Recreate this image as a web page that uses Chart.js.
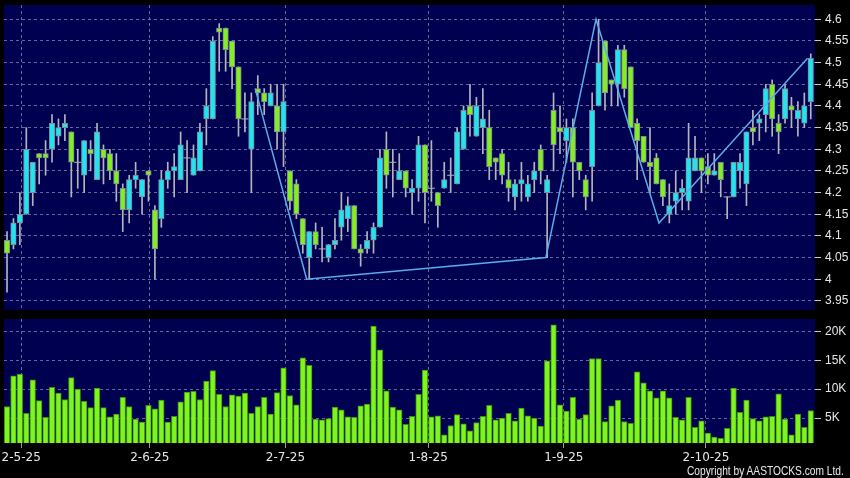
<!DOCTYPE html>
<html>
<head>
<meta charset="utf-8">
<script src="https://cdn.jsdelivr.net/npm/chart.js@4.4.0/dist/chart.umd.min.js"></script>
<style>
  html, body { margin: 0; padding: 0; background: #000; }
  #wrap { position: relative; width: 850px; height: 478px; overflow: hidden; background: #000; }
  #priceBox { position: absolute; left: 0; top: 0; width: 850px; height: 312px; }
  #volBox { position: absolute; left: 0; top: 312px; width: 850px; height: 166px; }
  #copy {
    position: absolute; left: 687px; top: 464px; line-height: 15px;
    font: 12px "Liberation Sans", Arial, sans-serif; color: #e8e8e8;
    white-space: nowrap; transform: scaleX(0.85); transform-origin: left center;
  }
</style>
</head>
<body>
<div id="wrap">
  <div id="priceBox"><canvas id="priceChart" width="850" height="312"></canvas></div>
  <div id="volBox"><canvas id="volChart" width="850" height="166"></canvas></div>
  <div id="copy">Copyright by AASTOCKS.com Ltd.</div>
</div>
<script>
// daily candles, one per trading day (index 0 = first day shown)
const OPEN = [4.09,4.08,4.13,4.15,4.20,4.29,4.29,4.30,4.33,4.35,4.34,4.27,4.24,4.30,4.23,4.30,
  4.29,4.25,4.21,4.16,4.23,4.19,4.25,4.16,4.14,4.23,4.25,4.23,4.28,4.24,4.25,4.37,4.37,
  4.58,4.58,4.55,4.49,4.37,4.30,4.44,4.43,4.40,4.40,4.34,4.25,4.22,4.14,4.05,4.11,
  4.07,4.05,4.08,4.12,4.14,4.17,4.07,4.07,4.09,4.12,4.30,4.27,4.23,4.25,4.20,4.21,
  4.31,4.21,4.20,4.21,4.24,4.22,4.30,4.40,4.33,4.35,4.35,4.28,4.29,4.23,4.19,4.22,
  4.19,4.23,4.30,4.20,4.39,4.35,4.32,4.35,4.27,4.23,4.26,4.40,4.55,4.46,4.45,4.53,
  4.49,4.36,4.33,4.27,4.28,4.23,4.15,4.18,4.20,4.18,4.25,4.28,4.26,4.24,4.27,4.19,4.19,
  4.25,4.22,4.35,4.36,4.38,4.45,4.36,4.37,4.40,4.37,4.36,4.41];
const HIGH = [4.11,4.14,4.20,4.35,4.27,4.29,4.32,4.38,4.37,4.38,4.34,4.30,4.32,4.32,4.36,4.31,
  4.30,4.29,4.22,4.24,4.27,4.23,4.25,4.17,4.25,4.27,4.29,4.34,4.32,4.31,4.36,4.44,4.56,
  4.59,4.58,4.55,4.49,4.43,4.43,4.47,4.44,4.45,4.45,4.45,4.25,4.23,4.14,4.11,4.13,
  4.12,4.08,4.14,4.20,4.19,4.17,4.08,4.11,4.13,4.30,4.34,4.30,4.29,4.25,4.23,4.33,
  4.31,4.32,4.20,4.27,4.28,4.35,4.40,4.45,4.42,4.44,4.39,4.28,4.30,4.27,4.23,4.27,
  4.24,4.27,4.31,4.24,4.43,4.40,4.37,4.37,4.27,4.24,4.43,4.60,4.55,4.46,4.54,4.54,
  4.49,4.37,4.33,4.35,4.29,4.23,4.22,4.25,4.23,4.36,4.33,4.28,4.29,4.29,4.27,4.19,4.27,
  4.29,4.34,4.39,4.38,4.45,4.46,4.38,4.45,4.42,4.41,4.43,4.52];
const LOW = [3.97,4.07,4.08,4.15,4.17,4.22,4.24,4.27,4.31,4.32,4.19,4.21,4.20,4.25,4.23,4.22,
  4.23,4.18,4.11,4.13,4.21,4.15,4.18,4.00,4.12,4.21,4.19,4.23,4.20,4.24,4.25,4.31,4.37,
  4.48,4.48,4.44,4.33,4.34,4.20,4.38,4.38,4.40,4.30,4.26,4.16,4.14,4.06,4.00,4.07,
  4.04,4.04,4.07,4.09,4.11,4.07,4.03,4.06,4.06,4.12,4.21,4.19,4.23,4.19,4.15,4.18,
  4.13,4.18,4.12,4.21,4.20,4.22,4.30,4.33,4.33,4.29,4.23,4.23,4.22,4.18,4.16,4.18,
  4.18,4.20,4.22,4.05,4.25,4.29,4.27,4.19,4.23,4.16,4.18,4.40,4.39,4.40,4.40,4.42,
  4.35,4.23,4.27,4.20,4.22,4.17,4.13,4.15,4.16,4.16,4.25,4.20,4.22,4.24,4.19,4.14,4.19,
  4.21,4.17,4.31,4.32,4.34,4.33,4.29,4.36,4.35,4.33,4.35,4.37];
const CLOSE = [4.06,4.13,4.15,4.30,4.27,4.28,4.28,4.36,4.35,4.36,4.27,4.27,4.32,4.29,4.34,4.28,
  4.25,4.22,4.16,4.23,4.24,4.23,4.24,4.07,4.23,4.25,4.26,4.31,4.28,4.28,4.34,4.40,4.55,
  4.57,4.53,4.49,4.37,4.37,4.41,4.43,4.41,4.43,4.34,4.41,4.18,4.15,4.08,4.11,4.08,
  4.07,4.08,4.09,4.16,4.17,4.07,4.06,4.09,4.12,4.28,4.24,4.27,4.25,4.21,4.21,4.31,
  4.20,4.21,4.17,4.23,4.24,4.34,4.39,4.38,4.40,4.37,4.26,4.27,4.24,4.21,4.22,4.23,
  4.22,4.25,4.25,4.23,4.31,4.34,4.35,4.27,4.25,4.19,4.39,4.50,4.43,4.45,4.53,4.44,
  4.35,4.32,4.27,4.26,4.22,4.19,4.17,4.20,4.21,4.28,4.28,4.25,4.24,4.25,4.23,4.19,4.27,
  4.27,4.34,4.34,4.37,4.44,4.37,4.34,4.44,4.39,4.39,4.40,4.51];
// volume in thousands of shares
const VOLUME = [7.0,12.3,12.6,5.8,11.6,8.0,5.1,10.3,9.3,8.2,12.0,10.0,7.9,6.8,10.2,6.8,
  5.2,5.7,8.6,7.0,4.8,4.3,7.2,6.6,8.1,4.3,5.3,7.8,9.5,9.6,8.2,11.4,13.2,9.1,7.0,9.0,
  8.8,9.3,5.8,7.0,8.6,5.7,9.4,13.7,8.9,7.3,15.4,14.1,4.8,4.7,4.9,6.9,6.4,5.2,5.1,7.1,
  7.4,20.9,16.8,9.7,6.9,6.4,3.9,5.3,9.1,13.3,5.2,5.4,2.1,3.7,5.6,4.0,2.8,4.2,5.3,7.2,
  4.7,5.0,5.8,4.5,6.7,5.4,5.0,3.6,14.9,21.1,7.3,6.2,8.6,4.8,5.6,15.3,15.3,4.4,7.1,8.1,
  4.4,4.1,13.0,11.1,9.7,8.5,9.7,8.5,5.1,4.7,8.6,3.4,4.5,2.4,1.7,1.5,3.2,10.2,6.0,8.1,
  4.9,4.5,5.2,5.3,9.2,4.8,2.1,5.7,3.4,6.3];
// zigzag overlay turning points (position in trading days, price)
const ZIG_X = [38.6, 46.6, 83.8, 91.6, 101.4, 124.5];
const ZIG_Y = [4.44, 4.00, 4.05, 4.60, 4.13, 4.51];
// date ticks on the time axis
const MONTH_POS = [2.2, 22.2, 43.3, 65.5, 86.6, 108.7];
const MONTH_LABELS = ["2-5-25", "2-6-25", "2-7-25", "1-8-25", "1-9-25", "2-10-25"];
const PRICE_TICKS = [3.95, 4, 4.05, 4.1, 4.15, 4.2, 4.25, 4.3, 4.35, 4.4, 4.45, 4.5, 4.55, 4.6];
const VOL_TICKS = [5, 10, 15, 20];

const NAVY = "#000050";
const GRID = "rgba(130,130,170,0.8)";
const CYAN = "#22e4f0";
const GREEN = "#84ee22";
const X_MIN = -0.47, X_MAX = 125.66;

// fill the plot area navy
const plotBg = {
  id: "plotBg",
  beforeDraw(chart) {
    const { ctx, chartArea: a } = chart;
    ctx.save();
    ctx.fillStyle = NAVY;
    ctx.fillRect(a.left, a.top, a.right - a.left, a.bottom - a.top);
    ctx.restore();
  }
};

function noPad(s) {
  s.paddingLeft = 0; s.paddingRight = 0; s.paddingTop = 0; s.paddingBottom = 0;
}

function xAxis(showLabels) {
  return {
    type: "linear", min: X_MIN, max: X_MAX, offset: false,
    grid: { color: GRID, offset: false, drawTicks: showLabels, tickLength: 5, tickColor: "#9a9a9a", tickBorderDash: [] },
    border: { display: false, dash: [3, 3] },
    ticks: {
      display: showLabels, autoSkip: false, maxRotation: 0, padding: 3,
      color: "#e6e6e6", font: { family: "DejaVu Sans", size: 12 },
      callback: (v, i) => MONTH_LABELS[i]
    },
    afterBuildTicks: s => { s.ticks = MONTH_POS.map(v => ({ value: v })); },
    afterFit: s => { s.height = showLabels ? 35 : 0; noPad(s); }
  };
}

function yAxis(min, max, ticks, fmt) {
  return {
    position: "right", min: min, max: max,
    grid: { color: GRID, tickLength: 6, tickColor: "#c8c8c8", tickBorderDash: [] },
    border: { display: false, dash: [3, 3] },
    ticks: { color: "#e6e6e6", font: { family: "Liberation Sans", size: 12 }, padding: 4, callback: fmt },
    afterBuildTicks: s => { s.ticks = ticks.map(v => ({ value: v })); },
    afterFit: s => { s.width = 35; noPad(s); }
  };
}

const idx = OPEN.map((_, i) => i);
const bodies = idx.map(i => ({ x: i, y: [OPEN[i], CLOSE[i]] }));
const wicks = idx.map(i => ({ x: i, y: [LOW[i], HIGH[i]] }));
const dojis = idx.filter(i => OPEN[i] === CLOSE[i]).map(i => ({ x: i, y: CLOSE[i] }));
const bodyColors = idx.map(i => CLOSE[i] >= OPEN[i] ? CYAN : GREEN);
const zig = ZIG_X.map((x, i) => ({ x: x, y: ZIG_Y[i] }));

new Chart(document.getElementById("priceChart"), {
  type: "bar",
  data: {
    datasets: [
      { type: "line", data: zig, borderColor: "#5aaee8", borderWidth: 1.5, pointRadius: 0, tension: 0, order: 0 },
      { type: "line", data: dojis, showLine: false, pointStyle: "line", pointRadius: 3.5,
        borderColor: "#b0b0b8", pointBorderWidth: 1, order: 1 },
      { data: bodies, backgroundColor: bodyColors, borderColor: "#7a8a96", borderWidth: 1,
        borderSkipped: false, barThickness: 5.5, grouped: false, order: 2 },
      { data: wicks, backgroundColor: "#b4b4bc", barThickness: 1, grouped: false, order: 3 }
    ]
  },
  options: {
    responsive: false, animation: false,
    layout: { autoPadding: false, padding: { left: 4, top: 5, right: 0, bottom: 2 } },
    plugins: { legend: { display: false }, tooltip: { enabled: false } },
    scales: {
      x: xAxis(false),
      y: yAxis(3.929, 4.633, PRICE_TICKS, v => String(+v.toFixed(2)))
    }
  },
  plugins: [plotBg]
});

new Chart(document.getElementById("volChart"), {
  type: "bar",
  data: {
    datasets: [
      { data: VOLUME.map((v, i) => ({ x: i, y: v })), backgroundColor: "#80f41e",
        borderColor: "#3b8f10", borderWidth: 1, barThickness: 5.6, grouped: false }
    ]
  },
  options: {
    responsive: false, animation: false,
    layout: { autoPadding: false, padding: { left: 4, top: 7, right: 0, bottom: 0 } },
    plugins: { legend: { display: false }, tooltip: { enabled: false } },
    scales: {
      x: xAxis(true),
      y: yAxis(0.68, 22.13, VOL_TICKS, v => v + "K")
    }
  },
  plugins: [plotBg]
});
</script>
</body>
</html>
